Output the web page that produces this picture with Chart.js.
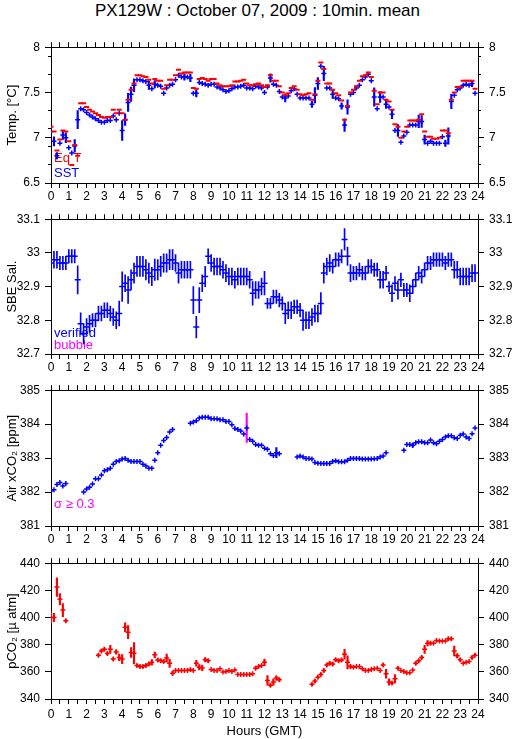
<!DOCTYPE html>
<html>
<head>
<meta charset="utf-8">
<script src="https://cdn.jsdelivr.net/npm/chart.js@4"></script>
<style>
  body { margin: 0; background: #fff; width: 515px; height: 739px; position: relative; overflow: hidden; font-family: "Liberation Sans", Arial, sans-serif; }
  #title { position: absolute; left: 0; width: 515px; top: 1px; text-align: center; font-size: 17px; color: #000; }
  canvas { position: absolute; left: 0; }
</style>
</head>
<body>
<div id="title">PX129W : October 07, 2009 : 10min. mean</div>
<canvas id="c1" width="515" height="172" style="top:35px"></canvas>
<canvas id="c2" width="515" height="171" style="top:207px"></canvas>
<canvas id="c3" width="515" height="172" style="top:378px"></canvas>
<canvas id="c4" width="515" height="188" style="top:551px"></canvas>
<script>
// 10-minute means, hour of day (GMT)
const HOURS = Array.from({ length: 144 }, (_, i) => i / 6);
const X_TICKS = [0, 24, 0.5]; // min, max, step (labels on whole hours)

// Temperature [degC]
const SST = [
  7.07, 6.96, 6.80, 6.94, 7.03, 7.00, 6.89, 6.83, 6.91, 7.20,
  7.32, 7.31, 7.28, 7.25, 7.23, 7.21, 7.19, 7.17, 7.17, 7.19,
  7.19, 7.24, 7.20, 7.27, 7.08, 7.20, 7.39, 7.48, 7.58, 7.64,
  7.64, 7.63, 7.62, 7.58, 7.54, 7.59, 7.58, 7.57, 7.49, 7.55,
  7.58, 7.59, 7.64, 7.69, 7.67, 7.67, 7.67, 7.66, 7.49, 7.49,
  7.61, 7.60, 7.59, 7.58, 7.59, 7.59, 7.56, 7.55, 7.53, 7.51,
  7.52, 7.54, 7.56, 7.56, 7.57, 7.58, 7.55, 7.55, 7.54, 7.57,
  7.56, 7.55, 7.50, 7.56, 7.66, 7.59, 7.58, 7.51, 7.45, 7.44,
  7.46, 7.52, 7.54, 7.48, 7.44, 7.44, 7.44, 7.44, 7.37, 7.47,
  7.60, 7.79, 7.71, 7.55, 7.55, 7.48, 7.44, 7.43, 7.35, 7.14,
  7.34, 7.48, 7.50, 7.55, 7.58, 7.64, 7.67, 7.70, 7.63, 7.45,
  7.32, 7.45, 7.45, 7.37, 7.34, 7.26, 7.08, 7.08, 6.95, 7.02,
  7.06, 7.14, 7.14, 7.14, 7.18, 7.18, 6.98, 6.94, 6.96, 6.94,
  6.94, 6.94, 7.01, 6.94, 7.02, 7.40, 7.47, 7.53, 7.55, 7.58,
  7.59, 7.58, 7.60, 7.49
];
const SST_SD = [
  0, .05, .035, 0, .05, .055, 0, 0, .07, .1,
  0, 0, 0, 0, 0, 0, 0, 0, 0, 0,
  0, 0, 0, 0, .11, .065, .1, .08, .07, 0,
  0, 0, 0, .045, 0, .04, 0, 0, 0, 0,
  0, 0, 0, 0, 0, .035, 0, .04, 0, .04,
  0, 0, 0, 0, 0, 0, 0, 0, 0, 0,
  0, 0, 0, 0, 0, 0, 0, 0, 0, 0,
  0, 0, 0, 0, .045, 0, 0, 0, 0, .045,
  0, 0, 0, 0, 0, 0, 0, 0, .035, .085,
  .065, 0, .08, 0, 0, .045, 0, 0, .035, .07,
  .08, 0, 0, 0, 0, 0, 0, 0, 0, .1,
  0, .06, 0, .045, 0, .05, 0, .065, 0, 0,
  0, 0, 0, 0, .07, .065, .05, 0, 0, 0,
  0, 0, 0, .035, .09, .08, 0, 0, 0, 0,
  0, 0, .035, 0
];
const EQ_T = [
  7.12, 7.07, 6.86, 6.98, 7.08, 7.07, 6.96, 6.70, 6.92, 6.80,
  7.38, 7.38, 7.34, 7.31, 7.29, 7.27, 7.25, 7.23, 7.22, 7.23,
  7.23, 7.31, 7.27, 7.31, 7.27, 7.20, 7.42, 7.53, 7.60, 7.69,
  7.69, 7.68, 7.67, 7.64, 7.60, 7.65, 7.63, 7.63, 7.54, 7.58,
  7.64, 7.64, 7.69, 7.75, 7.71, 7.72, 7.72, 7.72, 7.55, 7.54,
  7.65, 7.66, 7.65, 7.63, 7.65, 7.65, 7.60, 7.58, 7.57, 7.57,
  7.57, 7.58, 7.62, 7.62, 7.63, 7.64, 7.60, 7.58, 7.58, 7.59,
  7.60, 7.58, 7.56, 7.58, 7.69, 7.63, 7.63, 7.57, 7.50, 7.47,
  7.49, 7.55, 7.57, 7.53, 7.48, 7.47, 7.48, 7.49, 7.42, 7.48,
  7.63, 7.83, 7.76, 7.60, 7.60, 7.53, 7.49, 7.47, 7.41, 7.20,
  7.35, 7.50, 7.53, 7.57, 7.63, 7.68, 7.69, 7.72, 7.67, 7.52,
  7.37, 7.50, 7.50, 7.42, 7.40, 7.31, 7.15, 7.12, 7.00, 7.07,
  7.12, 7.19, 7.19, 7.19, 7.20, 7.26, 7.07, 7.01, 7.01, 6.99,
  6.99, 7.00, 7.08, 7.08, 7.05, 7.42, 7.50, 7.56, 7.56, 7.63,
  7.63, 7.63, 7.63, 7.54
];

// SBE salinity
const SAL = [
  32.97, 32.98, 32.98, 32.97, 32.97, 32.97, 32.99, 32.99, 32.99, 32.92,
  32.79, 32.76, 32.78, 32.79, 32.80, 32.80, 32.82, 32.82, 32.83, 32.83,
  32.82, 32.81, 32.80, 32.82, 32.90, 32.91, 32.89, 32.92, 32.94, 32.96,
  32.96, 32.96, 32.95, 32.94, 32.93, 32.95, 32.95, 32.96, 32.97, 32.97,
  32.98, 32.98, 32.97, 32.94, 32.95, 32.95, 32.95, 32.95, 32.86, 32.78,
  32.86, 32.91, 32.93, 32.99, 32.97, 32.96, 32.96, 32.96, 32.95, 32.94,
  32.93, 32.93, 32.92, 32.93, 32.93, 32.93, 32.93, 32.92, 32.88, 32.89,
  32.89, 32.90, 32.91, 32.85, 32.85, 32.87, 32.87, 32.86, 32.85, 32.82,
  32.83, 32.83, 32.84, 32.84, 32.83, 32.80, 32.80, 32.80, 32.81, 32.82,
  32.82, 32.85, 32.94, 32.96, 32.97, 32.96, 32.98, 32.98, 32.99, 33.04,
  32.99, 32.94, 32.94, 32.94, 32.95, 32.94, 32.94, 32.96, 32.96, 32.95,
  32.95, 32.92, 32.92, 32.94, 32.90, 32.88, 32.91, 32.89, 32.92, 32.89,
  32.89, 32.88, 32.90, 32.92, 32.94, 32.93, 32.95, 32.97, 32.97, 32.98,
  32.98, 32.98, 32.98, 32.97, 32.98, 32.98, 32.95, 32.95, 32.93, 32.93,
  32.93, 32.93, 32.94, 32.94
];
const SAL_SD = [
  .022, .025, .025, .02, .02, .02, .02, .02, .02, .042,
  .032, .03, .025, .025, .02, .02, .022, .022, .022, .022,
  .022, .025, .025, .037, .044, .025, .04, .03, .03, .03,
  .03, .03, .03, .03, .027, .032, .03, .03, .027, .027,
  .03, .03, .025, .03, .025, .025, .025, .025, .04, .032,
  .037, .025, .03, .022, .025, .025, .025, .025, .025, .025,
  .025, .025, .025, .025, .025, .025, .025, .025, .035, .025,
  .025, .025, .035, .015, .015, .02, .02, .02, .02, .03,
  .025, .025, .02, .02, .02, .03, .025, .025, .025, .025,
  .025, .032, .03, .025, .025, .02, .02, .02, .02, .032,
  .027, .025, .02, .02, .02, .02, .02, .02, .02, .02,
  .02, .025, .025, .02, .015, .025, .02, .027, .02, .02,
  .02, .025, .02, .02, .02, .02, .02, .02, .02, .02,
  .02, .02, .02, .02, .02, .02, .025, .025, .025, .025,
  .025, .025, .025, .025
];

// Air xCO2 [ppm]
const AIR = [
  382.03, 382.07, 382.22, 382.28, 382.18, 382.25, null, null, null, null,
  null, 382.00, 382.09, 382.14, 382.24, 382.39, 382.39, 382.50, 382.63, 382.66,
  382.70, 382.82, 382.90, 382.92, 382.97, 382.99, 382.94, 382.90, 382.90, 382.90,
  382.90, 382.82, 382.77, 382.70, 382.70, 382.94, 383.16, 383.38, 383.52, 383.61,
  383.77, 383.84, null, null, null, null, null, 384.03, 384.06, 384.10,
  384.18, 384.20, 384.20, 384.20, 384.16, 384.16, 384.16, 384.13, 384.13, 384.08,
  384.08, 383.98, 383.87, 383.84, 383.80, 383.71, 383.89, 383.55, 383.50, 383.40,
  383.38, 383.38, 383.29, 383.26, 383.13, 383.08, 383.16, 383.13, null, null,
  null, null, null, 383.03, 383.06, 383.03, 382.99, 382.99, 382.97, 382.87,
  382.85, 382.84, 382.84, 382.84, 382.84, 382.90, 382.92, 382.89, 382.89, 382.89,
  382.94, 382.99, 382.99, 382.99, 382.99, 382.97, 382.97, 382.97, 382.97, 382.98,
  382.99, 383.03, 383.06, 383.16, null, null, null, null, null, 383.23,
  383.40, 383.40, 383.38, 383.45, 383.48, 383.48, 383.45, 383.45, 383.53, 383.45,
  383.42, 383.50, 383.55, 383.62, 383.66, 383.66, 383.60, 383.58, 383.67, 383.71,
  383.62, 383.58, 383.72, 383.89
];
const AIR_SD = [
  0, 0, 0, 0, 0, 0, 0, 0, 0, 0,
  0, 0, 0, 0, 0, 0, 0, 0, 0, 0,
  0, 0, 0, 0, 0, 0, 0, 0, 0, 0,
  0, 0, 0, 0, 0, 0, 0, 0, 0, 0,
  0, 0, 0, 0, 0, 0, 0, 0, 0, 0,
  0, 0, 0, 0, 0, 0, 0, 0, 0, 0,
  0, 0, 0, 0, 0, 0, 0.43, 0, 0, 0,
  0, 0, 0, 0, 0, 0, 0.15, 0, 0, 0,
  0, 0, 0, 0, 0, 0, 0, 0, 0, 0,
  0, 0, 0, 0, 0, 0, 0, 0, 0, 0,
  0, 0, 0, 0, 0, 0, 0, 0, 0, 0,
  0, 0, 0, 0, 0, 0, 0, 0, 0, 0,
  0, 0, 0.06, 0, 0, 0, 0, 0, 0, 0,
  0, 0, 0, 0, 0, 0, 0, 0, 0, 0,
  0, 0, 0, 0
];
const SIGMA_FLAG = 0.3;

// pCO2 [uatm]
const PCO2 = [
  400.0, 400.0, 422.4, 413.5, 405.5, 397.6, null, null, null, null,
  null, null, null, null, null, null, 372.3, 375.4, 376.6, 373.5,
  376.6, 369.4, 374.7, 370.6, 369.4, 392.8, 389.2, 374.2, 373.7, 364.6,
  363.9, 363.9, 364.6, 365.8, 367.0, 372.5, 368.7, 368.2, 367.7, 370.1,
  366.3, 359.0, 361.0, 361.0, 361.0, 361.0, 361.0, 361.7, 361.0, 366.3,
  363.4, 362.9, 368.9, 368.2, 361.7, 361.0, 361.0, 362.2, 359.8, 360.2,
  361.0, 360.2, 361.4, 358.1, 358.1, 358.1, 358.1, 358.1, 358.6, 362.7,
  363.9, 364.6, 367.0, 353.7, 350.1, 352.5, 355.4, 354.2, null, null,
  null, null, null, null, null, null, null, null, 350.8, 353.3,
  356.1, 358.1, 361.0, 365.1, 366.3, 365.8, 368.9, 368.2, 368.7, 373.0,
  367.0, 363.9, 363.4, 363.9, 363.9, 362.2, 361.0, 361.0, 361.7, 362.2,
  362.7, 361.0, 365.1, 358.6, 352.5, 351.8, 354.9, 362.7, 361.0, 360.2,
  359.3, 359.3, 361.4, 366.3, 368.2, 370.6, 376.6, 381.0, 381.0, 381.0,
  383.1, 382.7, 382.7, 382.7, 384.3, 384.3, 375.4, 371.8, 368.9, 366.3,
  367.0, 367.7, 370.6, 372.3
];
const PCO2_SD = [
  4.2, 3, 6.9, 4.2, 4.8, 1, 0, 0, 0, 0,
  0, 0, 0, 0, 0, 0, 1, 1, 1, 1,
  3, 1, 1.5, 2.4, 3.4, 3.3, 4.8, 3.6, 7.8, 1,
  1, 1, 1, 1, 2, 2, 1, 1, 1, 3,
  3, 1.5, 0, 0, 0, 0, 0, 0, 0, 2.2,
  2, 2, 1.5, 1, 0, 0, 0, 0, 0, 0,
  0, 0, 0, 0, 0, 0, 0, 0, 0, 1,
  0, 0, 2.4, 3.6, 1, 2.4, 1.5, 1, 0, 0,
  0, 0, 0, 0, 0, 0, 0, 0, 1, 1,
  1, 1, 1, 1, 1, 1, 1, 1, 1, 3.6,
  4.8, 1, 0, 0, 0, 0, 0, 0, 0, 0,
  0, 0, 1, 3.3, 2.4, 1, 3, 1, 0, 0,
  0, 0, 0, 1, 1, 1, 3, 2, 1, 0,
  0, 0, 0, 0, 1, 1, 3.6, 1.5, 1, 0,
  0, 0, 1, 1
];

const FONT_FAMILY = '"Liberation Sans", Arial, sans-serif';
Chart.defaults.font.family = FONT_FAMILY;
Chart.defaults.color = '#000';

const BLUE = '#0000ff', RED = '#ff0000', MAGENTA = '#ff00ff';

function points(vals) {
  return vals.map((v, i) => v == null ? null : { x: HOURS[i], y: v }).filter(Boolean);
}

function bars(vals, sds) {
  return vals.map((v, i) => (v == null || !sds[i]) ? null : { x: HOURS[i], y: [v - sds[i], v + sds[i]], sd: sds[i] }).filter(Boolean);
}

function errDataset(vals, sds, color, thick) {
  return {
    type: 'bar', data: bars(vals, sds), backgroundColor: color,
    barThickness: thick || 2, borderWidth: 0, grouped: false, order: 2
  };
}

function markDataset(vals, color, style, r, w) {
  return {
    type: 'scatter', data: points(vals), pointStyle: style, radius: r,
    borderColor: color, backgroundColor: color, borderWidth: w, order: 1
  };
}

const fmt = v => String(+(+v).toFixed(3));

// builds the axes of one panel: frame on 4 sides, outward ticks, minor ticks on y
function axes(p) {
  const ySide = (pos, major, width, weight) => {
    const ax = {
      type: 'linear', position: pos, min: p.min, max: p.max, weight: weight,
      afterFit: s => { s.width = width; },
      border: { display: major, color: '#000', width: 1 },
      grid: { drawOnChartArea: false, tickLength: major ? 6 : 3, color: '#000' },
      ticks: { stepSize: major ? p.major : p.minor, padding: 5, font: { size: 12 } }
    };
    ax.ticks.callback = major ? fmt : () => '';
    if (major && pos === 'left') {
      ax.title = { display: true, text: p.title, font: { size: 13 }, padding: { top: 5, bottom: 0 } };
    }
    return ax;
  };
  const xAxis = {
    type: 'linear', position: 'bottom', min: X_TICKS[0], max: X_TICKS[1], offset: false,
    afterFit: s => { s.height = p.bottomH; },
    border: { color: '#000', width: 1 },
    grid: { drawOnChartArea: false, tickLength: 5, color: '#000', offset: false },
    ticks: {
      stepSize: X_TICKS[2], autoSkip: false, maxRotation: 0, minRotation: 0, padding: p.xPad || 1, font: { size: 12 },
      callback: v => Math.abs(v - Math.round(v)) < 1e-6 ? String(Math.round(v)) : ''
    }
  };
  if (p.xTitle) {
    xAxis.title = { display: true, text: p.xTitle, font: { size: 13 }, padding: { top: 3, bottom: 0 } };
  }
  return {
    x: xAxis,
    x2: {
      type: 'linear', position: 'top', min: X_TICKS[0], max: X_TICKS[1], offset: false,
      afterFit: s => { s.height = 10; },
      border: { color: '#000', width: 1 },
      grid: { drawOnChartArea: false, tickLength: 5, color: '#000', offset: false },
      ticks: { stepSize: X_TICKS[2], autoSkip: false, maxRotation: 0, minRotation: 0, callback: () => '' }
    },
    y: ySide('left', true, 51, 1),
    yMinor: ySide('left', false, 0, 0),
    yr: ySide('right', true, 37, 1),
    yrMinor: ySide('right', false, 0, 0)
  };
}

function legendText(items) {
  return {
    id: 'legendText',
    beforeDatasetsDraw(chart) {
      const { ctx, chartArea } = chart;
      ctx.save();
      ctx.font = '13px ' + FONT_FAMILY;
      ctx.textBaseline = 'middle';
      ctx.textAlign = 'left';
      items.forEach(it => {
        ctx.fillStyle = it.color;
        ctx.fillText(it.text, chartArea.left + 3, chartArea.bottom - it.dy);
      });
      ctx.restore();
    }
  };
}

function panel(id, datasets, p, legend) {
  return new Chart(document.getElementById(id), {
    type: 'scatter',
    data: { datasets: datasets },
    options: {
      responsive: false, animation: false, events: [],
      layout: { padding: 0 },
      plugins: { legend: { display: false }, tooltip: { enabled: false } },
      scales: axes(p)
    },
    plugins: [legendText(legend)]
  });
}

// 1. temperature
panel('c1', [
  markDataset(EQ_T, RED, 'line', 2.5, 2),
  errDataset(SST, SST_SD, BLUE, 1.5),
  markDataset(SST, BLUE, 'cross', 2.5, 1.5)
], { min: 6.5, max: 8, major: 0.5, minor: 0.1, title: 'Temp. [°C]', bottomH: 24 },
[{ text: 'Eq T', color: RED, dy: 25 }, { text: 'SST', color: BLUE, dy: 10 }]);

// 2. salinity
panel('c2', [
  errDataset(SAL, SAL_SD, BLUE, 1),
  markDataset(SAL, BLUE, 'line', 3, 1.5)
], { min: 32.7, max: 33.1, major: 0.1, minor: 0.05, title: 'SBE Sal.', bottomH: 24 },
[{ text: 'verified', color: BLUE, dy: 21 }, { text: 'bubble', color: MAGENTA, dy: 9 }]);

// 3. air xCO2, sigma >= 0.3 flagged in magenta
const airErr = errDataset(AIR, AIR_SD, BLUE, 1.5);
airErr.backgroundColor = c => (c.raw && c.raw.sd >= SIGMA_FLAG) ? MAGENTA : BLUE;
panel('c3', [
  airErr,
  markDataset(AIR, BLUE, 'cross', 2.5, 1.5)
], { min: 381, max: 385, major: 1, minor: 0.5, title: 'Air xCO₂ [ppm]', bottomH: 24 },
[{ text: 'σ ≥ 0.3', color: MAGENTA, dy: 22 }]);

// 4. pCO2
panel('c4', [
  errDataset(PCO2, PCO2_SD, RED, 1.5),
  markDataset(PCO2, RED, 'cross', 2.5, 1.5)
], { min: 340, max: 440, major: 20, minor: 10, title: 'pCO₂ [µ atm]', bottomH: 40, xPad: 3, xTitle: 'Hours (GMT)' },
[]);
</script>
</body>
</html>
